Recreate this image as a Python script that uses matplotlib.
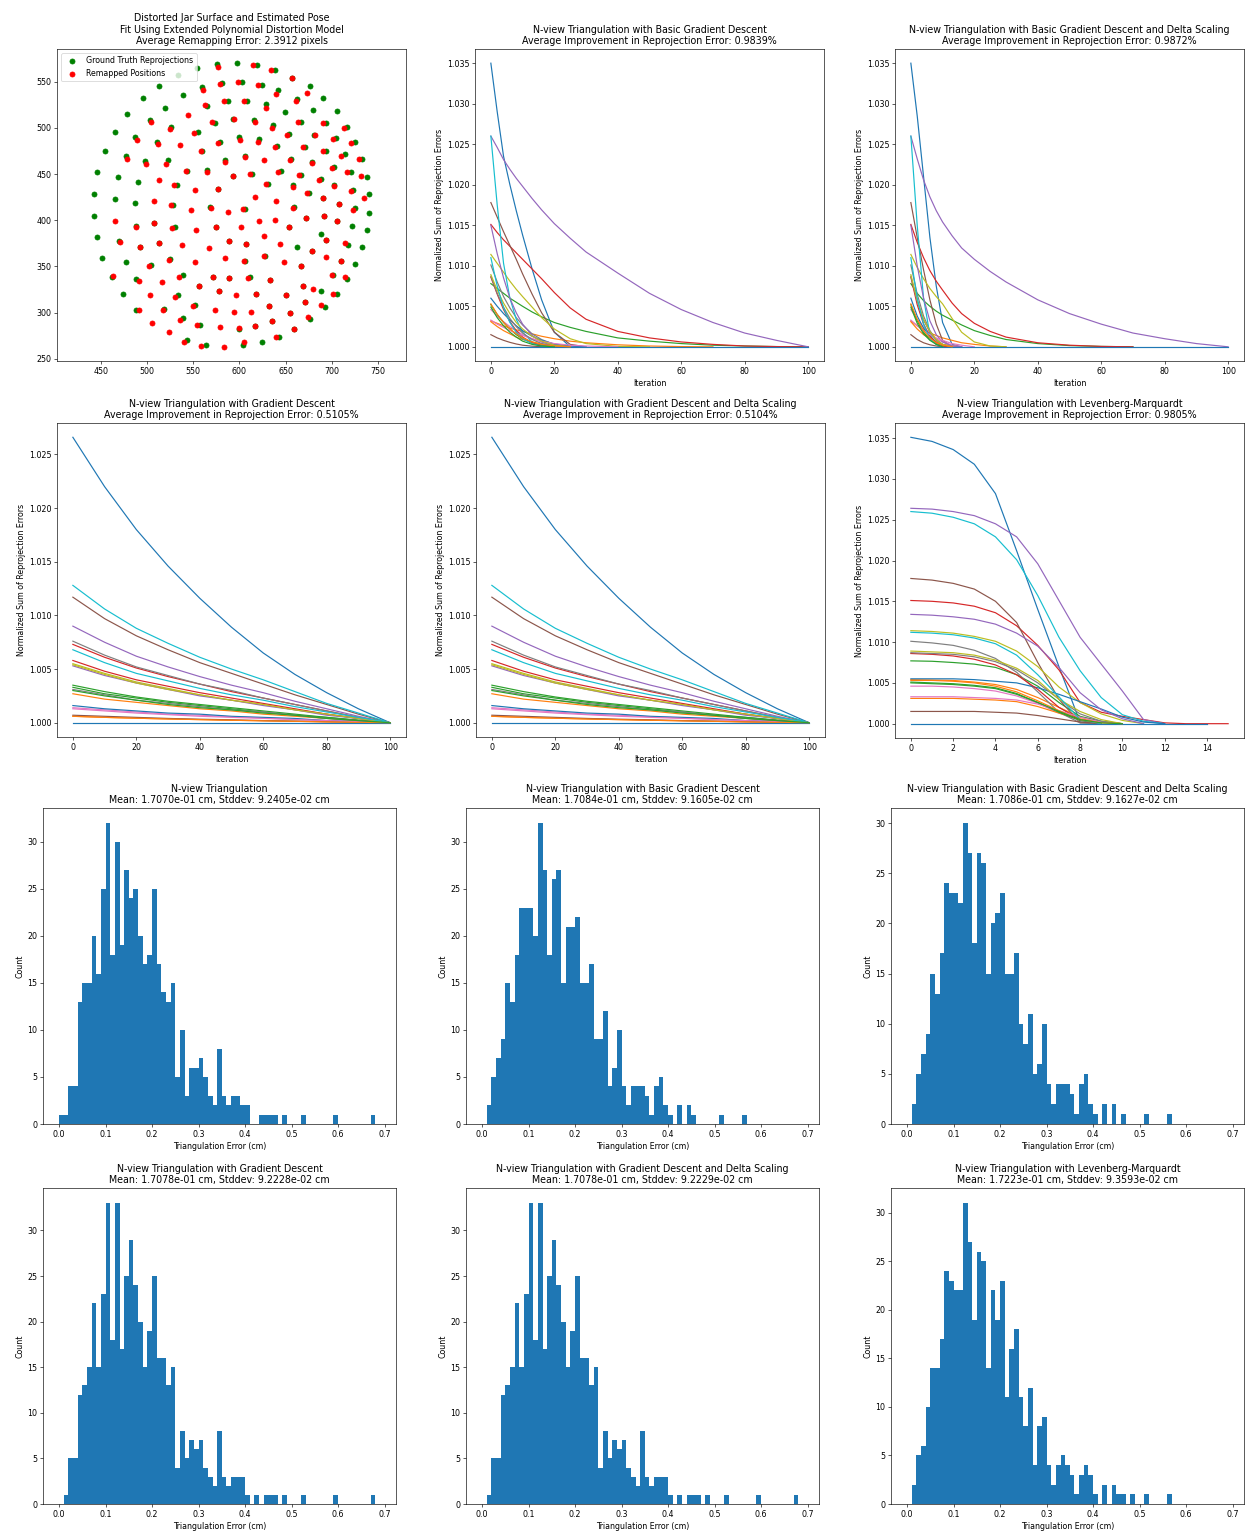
import numpy as np
import matplotlib
matplotlib.use("Agg")
import matplotlib.pyplot as plt

# output size in pixels, fonts scaled through dpi
DPI = 57
W, H = 1257, 1537

# ---------------- scatter: jar surface points ----------------
gt_x = [575.7, 597.5, 619, 639, 554.3, 534, 513.4, 560, 580.8, 603.3, 624.3, 657.2, 676.1, 641.7,
        495.3, 538.8, 519.2, 564.9, 587.3, 608.3, 629, 662.7, 690.9, 648.9, 679.3, 705.8, 478.6,
        465.2, 503.3, 573.6, 592.8, 616.3, 635.9, 666.3, 694.2, 717, 526.1, 554.7, 454.7, 487,
        510.9, 579.3, 599.6, 621.4, 640.6, 654, 671, 680.8, 705.1, 725.7, 477.2, 498.2, 522.5,
        559.1, 584, 605.8, 655.4, 679, 693.5, 714.9, 733.3, 446.4, 468.5, 490.2, 533, 543.8,
        565.2, 593.5, 613.8, 630.8, 644.6, 658.3, 667, 688, 702.5, 721, 702.9, 737.7, 722.8,
        442.8, 464.9, 486.6, 528.6, 577.2, 567.8, 605.8, 659, 675.4, 690.6, 707.6, 725, 740.2,
        740.2, 442.8, 488, 507.6, 530, 574.3, 654, 671.7, 688, 691.6, 706, 722.5, 737.7, 445.7,
        469.2, 492.8, 513, 589.1, 607.6, 662.7, 678.6, 693.5, 717.8, 732.6, 451.3, 477.2, 504,
        525, 606.5, 627.5, 666.7, 710.1, 725.7, 461.6, 473.9, 487.6, 538.8, 556.2, 577.9, 571.4,
        589.1, 612, 632.9, 651, 668.8, 688, 701.8, 717, 706, 488, 518.8, 534, 552.2, 617.7,
        632.2, 654.7, 670.6, 692.4, 677, 538.8, 557.6, 600, 617.4, 635.2, 659, 543.5, 564,
        604.3, 624.3, 643.1]
gt_y = [569.1, 570, 568, 563, 564.4, 556.8, 545.7, 544, 548.6, 549.3, 546.8, 554.3, 545.3, 541,
        532, 535.2, 521.9, 523.7, 528.7, 529.5, 525.9, 530.9, 532, 517.6, 519.7, 518.3, 514.7,
        496, 508.6, 505, 510, 508.9, 503.5, 506.4, 505, 501.4, 501.4, 495.6, 474.7, 490.2,
        484.4, 485.2, 490.6, 488.4, 479.8, 493.8, 479.4, 492.7, 489.5, 484.4, 469.3, 464.3, 465,
        474.7, 465.7, 470, 466.4, 462.8, 474.7, 471.5, 466.4, 451.7, 446.3, 441.2, 438, 453.8,
        454.5, 447.7, 449.5, 439.4, 453.1, 437.6, 449.1, 444.5, 457.4, 452.4, 438.3, 447.3, 432.9,
        428.6, 422.8, 418.2, 416, 433.6, 414.2, 411.7, 414.2, 429.3, 424.3, 417.4, 412.8, 427.9,
        408.1, 404.8, 393.8, 397.3, 392.6, 392.6, 392.6, 402.3, 385, 404, 398.7, 393.3, 389.7, 381.4,
        377.1, 371, 375.6, 378, 373.8, 370.6, 366.6, 378.5, 373.4, 370.6, 359.1, 355, 351.9,
        358, 356.2, 361.6, 350.4, 355.8, 352.6, 338.6, 320.2, 336.4, 340.7, 328.5, 323.4, 338.6,
        337, 338.5, 335.7, 318.8, 328.5, 323.4, 340.4, 336, 320.2, 303.3, 304, 319, 308.7, 320.6,
        307.6, 299.7, 311.5, 306.1, 293, 294.2, 286, 282, 285.2, 290.7, 282.4, 270.8, 265,
        264.4, 267.6, 273.7]

remap_x = [576.4, 614.5, 634.4, 560.5, 579.3, 598.9, 620.3, 657.2, 673.6, 639.5, 563, 583, 604.7,
           629, 661.6, 504, 544.6, 570.7, 594.6, 616.7, 635.5, 663.8, 690.2, 713.4, 525, 550.7,
           489.5, 512, 536.2, 576.4, 601.1, 619.9, 638.4, 651.8, 668.5, 681.5, 701.1, 721.4, 478.6,
           498.9, 521, 558.3, 584, 606.5, 626.4, 654.7, 678.3, 690.9, 709.6, 729.3, 513, 529.7,
           542.4, 564.9, 593.5, 612, 629, 641.7, 657.6, 664.8, 686.6, 700, 717, 702.2, 731.9,
           720.7, 507.6, 526.1, 551.8, 577.2, 569.2, 547.8, 587.7, 603.6, 617.4, 640.2, 657.6,
           672.8, 690.6, 707.6, 722.8, 735.5, 465.2, 488, 507.6, 526.8, 552.9, 574.3, 601.4, 621,
           639.1, 654, 671.7, 691.6, 706, 470.3, 492.8, 513, 538, 567, 589.1, 607.6, 627.2, 643.8,
           678.6, 693.5, 714.2, 501.8, 523.9, 552.2, 584.4, 605.1, 626.4, 648.2, 666.7, 694.2,
           710.1, 462.7, 490.9, 516.3, 534.4, 556.2, 577.9, 571.4, 589.1, 609.1, 632.9, 651, 668.8,
           679.7, 700, 714.5, 701.4, 491.3, 502.9, 517.8, 530.5, 549.6, 573.6, 593.8, 596, 613,
           617.7, 632.2, 654.7, 670.6, 688.7, 674.6, 505.4, 523.9, 535.5, 554, 579, 599.6, 617.4,
           635.2, 659, 540.6, 559, 583, 605, 640.2]
remap_y = [565.5, 568, 563, 541, 547.5, 549.3, 546, 554.3, 538.1, 536.3, 524.8, 528.7, 529,
           521.2, 529, 506.4, 514, 506.4, 509.3, 506.8, 499.6, 506.4, 505, 500.3, 499.2, 494.9,
           487, 482, 481.6, 484.1, 487, 485.2, 479, 492.7, 479, 492.7, 488, 483.7, 466.4,
           461, 461, 474.7, 463.2, 468.2, 465.7, 465.3, 462.1, 474.7, 469.7, 466.4, 443.4, 438.3,
           453.8, 452.4, 447.7, 449.5, 439.4, 452.4, 436.2, 448.4, 443, 456.3, 452.4, 436.9, 447.7,
           431.5, 420.7, 416, 432.6, 433.6, 413.5, 410.6, 408.8, 411.7, 425.4, 420.7, 413.1,
           429.7, 424.3, 417.4, 410.6, 424.3, 399.4, 393, 397.3, 391.9, 389, 392.6, 392.9, 399,
           399.8, 392.6, 402.3, 404, 398.7, 376.4, 371, 375.6, 372.8, 370.2, 378, 373.8, 382.5, 373.8,
           366.6, 378.5, 375.6, 350.4, 357.3, 355, 359, 356.2, 361.6, 355, 350.4, 359.8,
           355.8, 340, 333.9, 332.8, 338.9, 328.5, 323.4, 338.6, 337, 337.8, 335.7, 318.8, 328.5,
           325.2, 340.4, 338.9, 320.2, 302.5, 318.8, 302.5, 316.9, 307.6, 302.5, 300.4, 319, 301,
           320.6, 307.6, 299.7, 311.5, 308, 294.9, 289.2, 279.1, 292.4, 286.2, 284, 283.8, 285.2,
           290.7, 282.4, 268.4, 264.1, 262.9, 267.6, 273.7]

# ---------------- reprojection error curves ----------------
# values are (normalized error - 1) * 1000, one list per tracked point
basic_iters = [0, 2, 4, 6, 8, 10, 13, 16, 20, 25, 30, 40, 50, 60, 70, 80, 90, 100]
basic_gd = [
    [35.0, 29.0, 23.5, 20.0, 16.8, 13.8, 9.6, 5.8, 1.8, 0.0],
    [3.2, 2.9, 2.6, 2.3, 2.1, 1.9, 1.6, 1.3, 1.0, 0.7, 0.5, 0.25, 0.1, 0.03, 0.0],
    [7.8, 7.2, 6.6, 6.0, 5.5, 5.0, 4.3, 3.7, 3.0, 2.4, 1.9, 1.1, 0.7, 0.4, 0.2, 0.1, 0.03, 0.0],
    [15.1, 14.1, 13.2, 12.4, 11.6, 10.8, 9.6, 8.4, 6.7, 4.8, 3.4, 1.9, 1.1, 0.6, 0.3, 0.1, 0.03, 0.0],
    [26.0, 24.6, 23.1, 21.9, 20.8, 19.8, 18.3, 16.9, 15.2, 13.4, 11.7, 9.1, 6.6, 4.6, 3.0, 1.7, 0.8, 0.0],
    [17.8, 16.0, 14.2, 12.5, 10.8, 9.0, 6.5, 4.2, 1.8, 0.3, 0.0],
    [4.6, 3.8, 3.1, 2.5, 2.0, 1.5, 1.0, 0.6, 0.3, 0.1, 0.0],
    [10.1, 8.0, 6.2, 4.8, 3.6, 2.7, 1.6, 0.9, 0.3, 0.0],
    [11.4, 10.3, 9.2, 8.1, 7.1, 6.2, 4.9, 3.6, 2.2, 1.0, 0.4, 0.05, 0.0],
    [26.0, 17.5, 10.3, 6.0, 3.4, 1.8, 0.6, 0.1, 0.0],
    [6.0, 5.0, 4.1, 3.3, 2.6, 2.0, 1.3, 0.8, 0.35, 0.1, 0.0],
    [3.1, 2.5, 2.0, 1.6, 1.2, 0.9, 0.6, 0.35, 0.15, 0.0],
    [5.2, 4.0, 3.0, 2.2, 1.5, 1.0, 0.5, 0.2, 0.05, 0.0],
    [8.6, 6.5, 4.6, 3.1, 2.0, 1.2, 0.5, 0.15, 0.0],
    [15.0, 11.5, 8.5, 6.0, 4.2, 2.8, 1.4, 0.6, 0.1, 0.0],
    [1.5, 1.1, 0.8, 0.55, 0.35, 0.2, 0.08, 0.02, 0.0],
    [3.3, 2.8, 2.4, 2.0, 1.7, 1.4, 1.0, 0.7, 0.4, 0.2, 0.1, 0.0],
    [8.7, 6.6, 4.9, 3.5, 2.5, 1.7, 0.9, 0.4, 0.1, 0.0],
    [8.9, 7.0, 5.4, 4.1, 3.0, 2.2, 1.3, 0.7, 0.2, 0.0],
    [11.0, 7.5, 4.8, 3.0, 1.8, 1.0, 0.4, 0.1, 0.0],
    [0.0, 0.0, 0.0, 0.0, 0.0, 0.0, 0.0, 0.0, 0.0, 0.0, 0.0, 0.0, 0.0, 0.0, 0.0, 0.0, 0.0, 0.0],
    [5.3, 4.0, 3.0, 2.2, 1.6, 1.1, 0.6, 0.3, 0.1, 0.0],
    [4.9, 3.6, 2.6, 1.8, 1.2, 0.7, 0.3, 0.1, 0.0],
]
basic_gd_delta = [
    [35.0, 28.5, 21.0, 13.5, 7.5, 3.0, 0.3, 0.0],
    [3.2, 2.6, 2.1, 1.7, 1.4, 1.1, 0.8, 0.5, 0.3, 0.1, 0.0],
    [7.8, 6.6, 5.7, 5.0, 4.4, 3.9, 3.3, 2.7, 2.0, 1.4, 0.9, 0.4, 0.15, 0.05, 0.0],
    [15.1, 12.9, 11.0, 9.4, 8.1, 7.0, 5.4, 4.1, 2.9, 1.9, 1.2, 0.5, 0.2, 0.05, 0.0],
    [26.0, 23.2, 20.6, 18.5, 16.8, 15.4, 13.7, 12.2, 10.8, 9.3, 8.0, 5.8, 4.1, 2.8, 1.7, 1.0, 0.4, 0.0],
    [17.8, 13.5, 9.5, 5.8, 2.8, 0.8, 0.0],
    [4.6, 3.4, 2.4, 1.6, 1.0, 0.6, 0.2, 0.0],
    [10.1, 6.5, 3.8, 2.0, 0.9, 0.3, 0.0],
    [11.4, 9.8, 8.4, 7.2, 6.2, 5.3, 3.5, 1.8, 0.6, 0.1, 0.0],
    [26.0, 15.0, 6.0, 1.5, 0.3, 0.0],
    [6.0, 3.8, 2.3, 1.3, 0.6, 0.2, 0.0],
    [3.1, 2.2, 1.5, 1.0, 0.6, 0.3, 0.1, 0.0],
    [5.2, 3.2, 1.8, 0.9, 0.4, 0.1, 0.0],
    [8.6, 5.2, 2.8, 1.3, 0.5, 0.1, 0.0],
    [15.0, 10.0, 6.0, 3.2, 1.5, 0.6, 0.1, 0.0],
    [1.5, 0.9, 0.5, 0.25, 0.1, 0.0],
    [3.3, 2.6, 2.0, 1.5, 1.1, 0.8, 0.4, 0.2, 0.0],
    [8.7, 5.6, 3.3, 1.8, 0.8, 0.3, 0.0],
    [8.9, 5.8, 3.4, 1.9, 0.9, 0.3, 0.0],
    [11.0, 6.0, 2.8, 1.0, 0.3, 0.0],
    [0.0, 0.0, 0.0, 0.0, 0.0, 0.0, 0.0, 0.0, 0.0, 0.0, 0.0, 0.0, 0.0, 0.0, 0.0, 0.0, 0.0, 0.0],
    [5.3, 3.4, 2.0, 1.1, 0.5, 0.2, 0.0],
    [4.9, 2.9, 1.6, 0.8, 0.3, 0.0],
]

gd_iters = [0, 10, 20, 30, 40, 50, 60, 70, 80, 90, 100]
gd_curves = [
    [26.6, 22.0, 18.0, 14.6, 11.6, 8.9, 6.5, 4.5, 2.8, 1.3, 0.0],
    [2.7, 2.2, 1.9, 1.6, 1.3, 1.1, 0.8, 0.6, 0.4, 0.2, 0.0],
    [3.5, 2.9, 2.4, 2.0, 1.7, 1.4, 1.1, 0.8, 0.5, 0.25, 0.0],
    [7.3, 6.1, 5.1, 4.3, 3.6, 2.9, 2.3, 1.7, 1.1, 0.5, 0.0],
    [9.0, 7.5, 6.2, 5.2, 4.3, 3.5, 2.8, 2.0, 1.3, 0.6, 0.0],
    [11.7, 9.7, 8.1, 6.8, 5.6, 4.6, 3.6, 2.6, 1.7, 0.8, 0.0],
    [1.4, 1.2, 1.0, 0.8, 0.7, 0.55, 0.45, 0.3, 0.2, 0.1, 0.0],
    [7.6, 6.3, 5.2, 4.4, 3.6, 3.0, 2.3, 1.7, 1.1, 0.5, 0.0],
    [5.5, 4.6, 3.8, 3.2, 2.6, 2.1, 1.7, 1.2, 0.8, 0.4, 0.0],
    [12.8, 10.6, 8.8, 7.4, 6.1, 5.0, 4.0, 2.9, 1.8, 0.9, 0.0],
    [1.6, 1.3, 1.1, 0.9, 0.8, 0.6, 0.5, 0.4, 0.2, 0.1, 0.0],
    [0.6, 0.5, 0.42, 0.35, 0.29, 0.23, 0.18, 0.13, 0.08, 0.04, 0.0],
    [3.3, 2.7, 2.3, 1.9, 1.6, 1.3, 1.0, 0.7, 0.5, 0.2, 0.0],
    [5.8, 4.8, 4.0, 3.4, 2.8, 2.3, 1.8, 1.3, 0.8, 0.4, 0.0],
    [5.3, 4.4, 3.7, 3.1, 2.5, 2.1, 1.6, 1.2, 0.7, 0.4, 0.0],
    [0.7, 0.6, 0.5, 0.4, 0.33, 0.27, 0.2, 0.15, 0.1, 0.05, 0.0],
    [1.3, 1.1, 0.9, 0.75, 0.6, 0.5, 0.4, 0.3, 0.2, 0.1, 0.0],
    [3.1, 2.6, 2.1, 1.8, 1.5, 1.2, 1.0, 0.7, 0.4, 0.2, 0.0],
    [5.4, 4.5, 3.7, 3.1, 2.6, 2.1, 1.7, 1.2, 0.8, 0.4, 0.0],
    [6.8, 5.6, 4.6, 3.9, 3.2, 2.6, 2.1, 1.5, 1.0, 0.5, 0.0],
    [0.0, 0.0, 0.0, 0.0, 0.0, 0.0, 0.0, 0.0, 0.0, 0.0, 0.0],
    [0.6, 0.5, 0.42, 0.35, 0.29, 0.23, 0.18, 0.13, 0.08, 0.04, 0.0],
    [3.0, 2.5, 2.1, 1.7, 1.4, 1.2, 0.9, 0.7, 0.4, 0.2, 0.0],
]

# Levenberg-Marquardt: one value per iteration, starting at 0
lm_curves = [
    [35.1, 34.6, 33.6, 31.8, 28.2, 21.2, 14.0, 7.0, 0.2, 0.0],
    [5.4, 5.35, 5.3, 5.1, 4.8, 4.2, 3.2, 2.0, 0.8, 0.2, 0.0],
    [7.7, 7.65, 7.5, 7.3, 6.9, 6.0, 4.6, 2.6, 0.9, 0.3, 0.0],
    [15.1, 15.0, 14.8, 14.4, 13.6, 12.0, 9.6, 6.6, 2.6, 1.4, 0.9, 0.5, 0.1, 0.0, 0.0, 0.0],
    [26.4, 26.3, 26.0, 25.5, 24.5, 22.9, 19.6, 15.1, 10.6, 7.3, 4.0, 0.5, 0.0],
    [17.8, 17.6, 17.2, 16.5, 15.0, 12.4, 7.5, 3.0, 0.1, 0.0],
    [4.6, 4.6, 4.5, 4.3, 4.0, 3.4, 2.5, 1.3, 0.4, 0.0],
    [10.1, 9.9, 9.6, 9.0, 8.0, 6.3, 3.9, 1.4, 0.1, 0.0],
    [11.4, 11.3, 11.1, 10.7, 10.1, 8.9, 7.0, 4.5, 2.6, 1.2, 0.4, 0.0],
    [26.0, 25.8, 25.3, 24.5, 22.9, 20.1, 15.7, 10.6, 6.5, 3.2, 1.1, 0.3, 0.0],
    [5.5, 5.5, 5.5, 5.4, 5.2, 5.0, 4.4, 3.6, 2.7, 1.8, 0.8, 0.2, 0.0],
    [3.1, 3.1, 3.1, 3.0, 2.9, 2.7, 2.1, 1.3, 0.6, 0.2, 0.0],
    [5.1, 5.0, 4.9, 4.7, 4.4, 3.7, 2.6, 1.4, 0.4, 0.0],
    [8.6, 8.5, 8.3, 7.9, 7.2, 6.0, 4.2, 2.0, 0.5, 0.0],
    [13.4, 13.3, 13.1, 12.8, 12.2, 11.1, 9.5, 6.9, 3.8, 1.7, 0.6, 0.0],
    [1.5, 1.5, 1.5, 1.5, 1.4, 1.3, 1.0, 0.6, 0.2, 0.0],
    [3.3, 3.3, 3.3, 3.2, 3.1, 2.9, 2.4, 1.6, 0.8, 0.2, 0.0],
    [8.7, 8.6, 8.5, 8.2, 7.6, 6.6, 5.0, 3.0, 1.2, 0.3, 0.0],
    [8.9, 8.8, 8.7, 8.4, 7.8, 6.8, 5.3, 3.0, 1.5, 0.5, 0.0],
    [11.2, 11.1, 10.9, 10.5, 9.8, 8.4, 6.0, 3.3, 0.5, 0.0],
    [0.0, 0.0, 0.0, 0.0, 0.0, 0.0, 0.0, 0.0, 0.0, 0.0, 0.0, 0.0, 0.0, 0.0, 0.0],
    [5.3, 5.3, 5.2, 5.0, 4.6, 3.9, 2.8, 1.6, 0.5, 0.1, 0.0],
    [5.0, 4.9, 4.8, 4.6, 4.3, 3.6, 2.6, 1.5, 0.5, 0.1, 0.0],
]

# ---------------- triangulation error histograms ----------------
bin_edges = np.linspace(0.0, 0.69, 70)  # 0.01 cm bins
hist_plain = [1, 1, 4, 4, 13, 15, 15, 20, 16, 25, 32, 18, 30, 19, 27, 24, 25, 20, 17, 18,
              25, 17, 14, 13, 15, 5, 10, 3, 6, 6, 7, 5, 3, 2, 8, 3, 2, 3, 3, 2,
              2, 0, 0, 1, 1, 1, 1, 0, 1, 0, 0, 0, 1, 0, 0, 0, 0, 0, 0, 1,
              0, 0, 0, 0, 0, 0, 0, 1, 0]
hist_basic = [0, 2, 5, 7, 9, 15, 13, 18, 23, 23, 23, 20, 32, 27, 18, 26, 27, 15, 21, 21,
              22, 15, 15, 17, 9, 9, 12, 4, 6, 10, 4, 2, 4, 4, 4, 3, 1, 4, 5, 2,
              1, 0, 2, 0, 2, 1, 0, 0, 0, 0, 0, 1, 0, 0, 0, 0, 1, 0, 0, 0,
              0, 0, 0, 0, 0, 0, 0, 0, 0]
hist_basic_delta = [0, 2, 5, 7, 9, 15, 13, 17, 24, 23, 23, 22, 30, 27, 18, 27, 26, 15, 20, 21,
                    23, 15, 15, 17, 10, 8, 11, 5, 6, 10, 4, 2, 4, 4, 4, 3, 1, 4, 5, 2,
                    1, 0, 2, 0, 2, 0, 1, 0, 0, 0, 0, 1, 0, 0, 0, 0, 1, 0, 0, 0,
                    0, 0, 0, 0, 0, 0, 0, 0, 0]
hist_gd = [0, 1, 5, 5, 12, 13, 15, 22, 15, 23, 33, 18, 33, 17, 25, 29, 24, 20, 15, 19,
           25, 16, 16, 13, 15, 4, 8, 5, 7, 6, 7, 4, 3, 2, 8, 3, 2, 3, 3, 3,
           1, 0, 1, 0, 1, 1, 1, 0, 1, 0, 0, 0, 1, 0, 0, 0, 0, 0, 0, 1,
           0, 0, 0, 0, 0, 0, 0, 1, 0]
hist_gd_delta = [0, 1, 5, 5, 12, 13, 15, 22, 15, 23, 33, 18, 33, 17, 25, 29, 24, 20, 15, 19,
                 25, 16, 16, 13, 15, 4, 8, 5, 7, 6, 7, 4, 3, 2, 8, 3, 2, 3, 3, 3,
                 1, 0, 1, 0, 1, 1, 1, 0, 1, 0, 0, 0, 1, 0, 0, 0, 0, 0, 0, 1,
                 0, 0, 0, 0, 0, 0, 0, 1, 0]
hist_lm = [0, 2, 5, 6, 10, 14, 14, 17, 24, 23, 22, 22, 31, 27, 19, 26, 25, 14, 22, 19,
           23, 11, 16, 18, 11, 8, 12, 4, 8, 9, 4, 2, 4, 5, 4, 3, 1, 3, 4, 3,
           1, 0, 2, 0, 2, 1, 1, 0, 1, 0, 0, 1, 0, 0, 0, 0, 1, 0, 0, 0,
           0, 0, 0, 0, 0, 0, 0, 0, 0]

line_titles = [
    "N-view Triangulation with Basic Gradient Descent\nAverage Improvement in Reprojection Error: 0.9839%",
    "N-view Triangulation with Basic Gradient Descent and Delta Scaling\nAverage Improvement in Reprojection Error: 0.9872%",
    "N-view Triangulation with Gradient Descent\nAverage Improvement in Reprojection Error: 0.5105%",
    "N-view Triangulation with Gradient Descent and Delta Scaling\nAverage Improvement in Reprojection Error: 0.5104%",
    "N-view Triangulation with Levenberg-Marquardt\nAverage Improvement in Reprojection Error: 0.9805%",
]
hist_titles = [
    "N-view Triangulation\nMean: 1.7070e-01 cm, Stddev: 9.2405e-02 cm",
    "N-view Triangulation with Basic Gradient Descent\nMean: 1.7084e-01 cm, Stddev: 9.1605e-02 cm",
    "N-view Triangulation with Basic Gradient Descent and Delta Scaling\nMean: 1.7086e-01 cm, Stddev: 9.1627e-02 cm",
    "N-view Triangulation with Gradient Descent\nMean: 1.7078e-01 cm, Stddev: 9.2228e-02 cm",
    "N-view Triangulation with Gradient Descent and Delta Scaling\nMean: 1.7078e-01 cm, Stddev: 9.2229e-02 cm",
    "N-view Triangulation with Levenberg-Marquardt\nMean: 1.7223e-01 cm, Stddev: 9.3593e-02 cm",
]

fig = plt.figure(figsize=(W / DPI, H / DPI), dpi=DPI)


def px_axes(left, top, width, height):
    # axes placed by pixel box (top-left origin)
    return fig.add_axes([left / W, 1 - (top + height) / H, width / W, height / H])


# scatter
ax = px_axes(57, 49, 349, 312)
ax.scatter(gt_x, gt_y, color="green", s=40, label="Ground Truth Reprojections")
ax.scatter(remap_x, remap_y, color="red", s=40, label="Remapped Positions")
ax.set_aspect("equal", adjustable="datalim")
ax.legend(loc="upper left")
ax.set_title("Distorted Jar Surface and Estimated Pose\n"
             "Fit Using Extended Polynomial Distortion Model\n"
             "Average Remapping Error: 2.3912 pixels")

# line plots
line_boxes = [(475, 49, 349, 312), (895, 49, 349, 312),
              (57, 423, 349, 314), (476, 423, 349, 314), (895, 423, 349, 315)]
line_sets = [(basic_iters, basic_gd), (basic_iters, basic_gd_delta),
             (gd_iters, gd_curves), (gd_iters, gd_curves), (None, lm_curves)]
for box, (iters, curves), title in zip(line_boxes, line_sets, line_titles):
    ax = px_axes(*box)
    for vals in curves:
        x = np.arange(len(vals)) if iters is None else iters[:len(vals)]
        ax.plot(x, 1 + np.array(vals) / 1000)
    ax.set_xlabel("Iteration")
    ax.set_ylabel("Normalized Sum of Reprojection Errors")
    ax.set_title(title)

# histograms
hist_boxes = [(43, 808, 353, 316), (466, 808, 353, 316), (891, 808, 353, 316),
              (43, 1188, 353, 316), (466, 1188, 353, 316), (891, 1188, 353, 316)]
hist_sets = [hist_plain, hist_basic, hist_basic_delta, hist_gd, hist_gd_delta, hist_lm]
for box, counts, title in zip(hist_boxes, hist_sets, hist_titles):
    ax = px_axes(*box)
    ax.hist(bin_edges[:-1], bins=bin_edges, weights=counts)
    ax.set_xlabel("Triangulation Error (cm)")
    ax.set_ylabel("Count")
    ax.set_title(title)

fig.savefig("out.png", dpi=DPI)
